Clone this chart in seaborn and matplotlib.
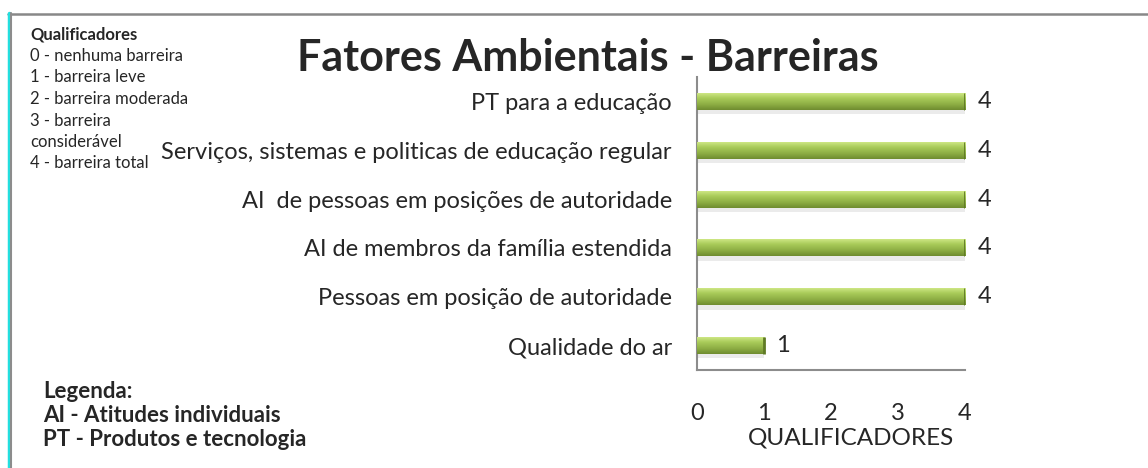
import numpy as np
import pandas as pd
import seaborn as sns
import matplotlib.pyplot as plt
from matplotlib.lines import Line2D
from matplotlib.colors import LinearSegmentedColormap

sns.set_style("white")
plt.rcParams['font.family'] = ['Lato', 'DejaVu Sans']

# data
fatores = ['PT para a educação',
           'Serviços, sistemas e politicas de educação regular',
           'AI  de pessoas em posições de autoridade',
           'AI de membros da família estendida',
           'Pessoas em posição de autoridade',
           'Qualidade do ar']
valores = [4, 4, 4, 4, 4, 1]
ticks = [0, 1, 2, 3, 4]

qualificadores = ['0 - nenhuma barreira', '1 - barreira leve', '2 - barreira moderada',
                  '3 - barreira', 'considerável', '4 - barreira total']
legenda = ['Legenda:', 'AI - Atitudes individuais', 'PT - Produtos e tecnologia']

df = pd.DataFrame({'fator': fatores, 'valor': valores})

fig = plt.figure(figsize=(11.48, 4.68), dpi=100)
ax = fig.add_axes([0.607, 0.2094, 0.2336, 0.6261])

sns.barplot(data=df, x='valor', y='fator', orient='h', color='#9BBB59',
            width=0.35, ax=ax, edgecolor='none')

# gradient fill for each bar (light top, darker bottom)
cmap = LinearSegmentedColormap.from_list('verde', ['#d4ec8c', '#a9cb5a', '#8fb045', '#6f8c30'])
grad = np.linspace(1, 0, 64).reshape(-1, 1)
for p in list(ax.patches):
    x0, y0 = p.get_x(), p.get_y()
    w, h = p.get_width(), p.get_height()
    # soft shadow below the bar
    ax.fill_between([x0, x0 + w], y0 + h, y0 + h * 1.25, color='#d8d8d8', alpha=0.5, lw=0, zorder=1)
    im = ax.imshow(grad, cmap=cmap, aspect='auto', extent=[x0, x0 + w, y0, y0 + h],
                   zorder=3, interpolation='bicubic')
    im.set_clip_path(p)
    p.set_zorder(2)
    # darker bevel at the right end
    ax.plot([x0 + w, x0 + w], [y0, y0 + h], color='#5f7a25', lw=2, zorder=4, solid_capstyle='butt')

ax.set_xlim(0, 4)
ax.set_ylim(5.5, -0.5)
ax.set_xticks(ticks)
ax.set_xticklabels([str(t) for t in ticks], fontsize=17)
ax.tick_params(axis='x', length=0, pad=24)
ax.tick_params(axis='y', length=0, pad=18, labelsize=17)
ax.set_ylabel('')
ax.set_xlabel('')
fig.text(0.741, 1 - 438 / 468, 'QUALIFICADORES', ha='center', va='center', fontsize=17.5)

for s in ['top', 'right']:
    ax.spines[s].set_visible(False)
for s in ['left', 'bottom']:
    ax.spines[s].set_color('#8c8c8c')
    ax.spines[s].set_linewidth(1.5)

for i, v in enumerate(valores):
    ax.text(v + 0.29, i, str(v), va='center', ha='center', fontsize=17)

fig.text(0.512, 1 - 58 / 468, 'Fatores Ambientais - Barreiras', ha='center', va='center',
         fontsize=31, fontweight='bold')

# qualificadores block
fig.text(30 / 1148, 1 - 34 / 468, 'Qualificadores', ha='left', va='center', fontsize=12, fontweight='bold')
for k, linha in enumerate(qualificadores):
    fig.text(30 / 1148, 1 - (56 + 21.5 * k) / 468, linha, ha='left', va='center', fontsize=12)

# legenda block
for k, linha in enumerate(legenda):
    fig.text(43 / 1148, 1 - (391 + 24.5 * k) / 468, linha, ha='left', va='center',
             fontsize=16, fontweight='bold')

# frame decoration
fig.add_artist(Line2D([8 / 1148, 1], [1 - 13.5 / 468] * 2, transform=fig.transFigure,
                      color='#888888', lw=1.8))
fig.add_artist(Line2D([8.5 / 1148] * 2, [0, 1 - 13 / 468], transform=fig.transFigure,
                      color='#22e0e0', lw=2.5))
fig.add_artist(Line2D([11 / 1148] * 2, [0, 1 - 13 / 468], transform=fig.transFigure,
                      color='#8c8c8c', lw=1.5))

fig.savefig('out.png', dpi=100)
